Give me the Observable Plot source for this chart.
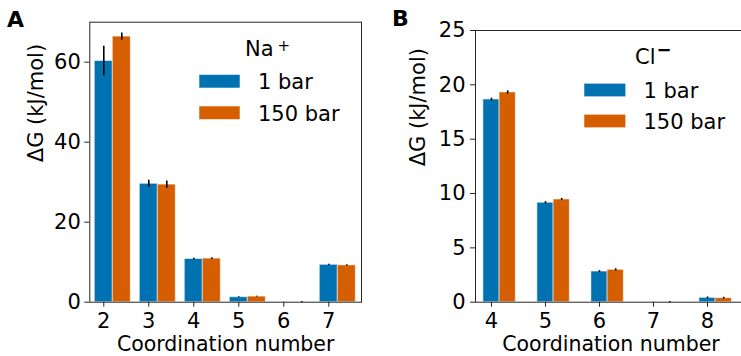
<!DOCTYPE html>
<html>
<head>
<meta charset="utf-8">
<script src="https://cdn.jsdelivr.net/npm/d3@7"></script>
<script src="https://cdn.jsdelivr.net/npm/@observablehq/plot@0.6"></script>
<style>
  html, body { margin: 0; padding: 0; background: #fff; overflow: hidden; }
  #fig { position: relative; width: 741px; height: 356px; overflow: hidden; }
  #fig svg { position: absolute; top: 0; overflow: visible; }
</style>
</head>
<body>
<div id="fig"></div>
<script>
// Free energy (kJ/mol) of each coordination state, Na+ and Cl-, at 1 and 150 bar
const pressures = ["1 bar", "150 bar"];
const pressureColors = ["#0072B2", "#D55E00"];

const naCN = [2, 3, 4, 5, 6, 7];
const na1bar = [60.3, 29.6, 10.8, 1.25, 0, 9.35];
const na1barErr = [3.7, 0.9, 0.2, 0.1, 0, 0.15];
const na150bar = [66.4, 29.4, 10.9, 1.4, 0, 9.2];
const na150barErr = [0.9, 0.9, 0.2, 0.1, 0.15, 0.15];
const naYTicks = [0, 20, 40, 60];

const clCN = [4, 5, 6, 7, 8];
const cl1bar = [18.65, 9.15, 2.82, 0, 0.4];
const cl1barErr = [0.12, 0.1, 0.08, 0, 0.08];
const cl150bar = [19.3, 9.45, 2.98, 0, 0.37];
const cl150barErr = [0.15, 0.1, 0.1, 0.06, 0.08];
const clYTicks = [0, 5, 10, 15, 20, 25];

const FONT = "DejaVu Sans";

function toRows(cn, series, errors) {
  const rows = [];
  series.forEach((values, i) => {
    cn.forEach((c, j) => rows.push({cn: c, pressure: pressures[i], slot: i, value: values[j], err: errors[i][j]}));
  });
  return rows;
}

function panel({rows, cn, yTicks, barWidth, xDomain, yDomain, width, marginLeft, marginRight, marginTop, labelDx, tickPadding}) {
  const center = d => d.cn + d.slot * barWidth;
  return Plot.plot({
    width, height: 356,
    marginLeft, marginRight, marginTop, marginBottom: 54.3,
    style: {fontFamily: FONT, fontSize: "21px", color: "black", background: "transparent"},
    x: {type: "linear", domain: xDomain},
    y: {domain: yDomain},
    color: {domain: pressures, range: pressureColors},
    marks: [
      Plot.rect(rows, {
        x1: d => center(d) - barWidth / 2, x2: d => center(d) + barWidth / 2,
        y1: 0, y2: "value", fill: "pressure",
        stroke: "white", strokeWidth: 1, strokeOpacity: 0.55
      }),
      Plot.ruleX(rows.filter(d => d.err > 0), {
        x: center, y1: d => d.value - d.err, y2: d => d.value + d.err,
        stroke: "black", strokeWidth: 1.6
      }),
      Plot.frame({stroke: "#262626", strokeWidth: 1}),
      Plot.axisX({ticks: cn, tickFormat: d => String(d), tickSize: 5, tickPadding: 6, label: null, stroke: "#262626"}),
      Plot.axisY({ticks: yTicks, tickFormat: d => String(d), tickSize: 5, tickPadding, label: null, stroke: "#262626"}),
      Plot.text(["ΔG (kJ/mol)"], {frameAnchor: "left", rotate: -90, dx: labelDx, text: d => d, fontSize: 21}),
      Plot.text(["Coordination number"], {frameAnchor: "bottom", dy: 48.5, text: d => d, fontSize: 20.5})
    ]
  });
}

function legend(svg, {title, sup, supSize, supWeight, titleX, titleY, supX, supY, patchX, patchW, patchH, rowY, textX}) {
  const g = d3.select(svg).append("g")
    .attr("font-family", FONT).attr("fill", "black").attr("text-anchor", "start");
  g.append("text").attr("x", titleX).attr("y", titleY).attr("font-size", 21).text(title);
  g.append("text").attr("x", supX).attr("y", supY).attr("font-size", supSize)
    .attr("font-weight", supWeight).text(sup);
  pressures.forEach((p, i) => {
    g.append("rect").attr("x", patchX).attr("y", rowY[i]).attr("width", patchW).attr("height", patchH)
      .attr("fill", pressureColors[i]).attr("stroke", "white").attr("stroke-opacity", 0.55);
    g.append("text").attr("x", textX).attr("y", rowY[i] + patchH + 1).attr("font-size", 21).text(p);
  });
}

function panelLetter(svg, letter, x, y) {
  d3.select(svg).append("text").attr("x", x).attr("y", y).attr("text-anchor", "start")
    .attr("font-family", FONT).attr("font-size", 22).attr("font-weight", "bold").text(letter);
}

const fig = document.getElementById("fig");

// Panel A: Na+
const svgA = panel({
  rows: toRows(naCN, [na1bar, na150bar], [na1barErr, na150barErr]),
  cn: naCN, yTicks: naYTicks, barWidth: 0.4,
  xDomain: [1.689, 7.727], yDomain: [0, 70],
  width: 370, marginLeft: 89.3, marginRight: 9, marginTop: 21.7,
  labelDx: -54, tickPadding: 4
});
svgA.style.left = "0px";
legend(svgA, {
  title: "Na", sup: "+", supSize: 15, supWeight: "normal",
  titleX: 245, titleY: 56, supX: 277.5, supY: 50.5,
  patchX: 199, patchW: 41, patchH: 13.5, rowY: [74.5, 106], textX: 258
});
panelLetter(svgA, "A", 7, 26.7);
fig.appendChild(svgA);

// Panel B: Cl-
const svgB = panel({
  rows: toRows(clCN, [cl1bar, cl150bar], [cl1barErr, cl150barErr]),
  cn: clCN, yTicks: clYTicks, barWidth: 0.3,
  xDomain: [3.704, 8.722], yDomain: [0, 25],
  width: 378, marginLeft: 105, marginRight: 2, marginTop: 30,
  labelDx: -57, tickPadding: 5
});
svgB.style.left = "370px";
legend(svgB, {
  title: "Cl", sup: "−", supSize: 18, supWeight: "bold",
  titleX: 265, titleY: 64, supX: 286.5, supY: 56.3,
  patchX: 214, patchW: 41.7, patchH: 13.4, rowY: [83.3, 114.3], textX: 273.5
});
panelLetter(svgB, "B", 22, 25.7);
fig.appendChild(svgB);
</script>
</body>
</html>
